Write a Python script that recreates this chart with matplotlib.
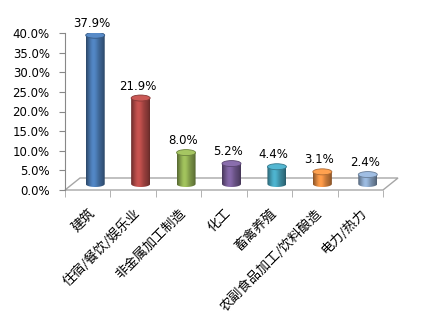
import matplotlib.pyplot as plt
import numpy as np
from matplotlib.path import Path
from matplotlib.patches import Ellipse, Polygon, PathPatch
from matplotlib.colors import to_rgb
from matplotlib.ticker import FuncFormatter

plt.rcParams['font.family'] = ['DejaVu Sans', 'Noto Sans CJK SC']

categories = ['建筑', '住宿/餐饮/娱乐业', '非金属加工制造', '化工', '畜禽养殖', '农副食品加工/饮料酿造', '电力/热力']
shares = [37.9, 21.9, 8.0, 5.2, 4.4, 3.1, 2.4]
colors = ['#4F81BD', '#C0504D', '#9BBB59', '#8064A2', '#4BACC6', '#F79646', '#95B3D7']
yticks = [0, 5, 10, 15, 20, 25, 30, 35, 40]

W, H = 426, 321
fig = plt.figure(figsize=(W / 100, H / 100), dpi=100)
# axes box in pixels: front floor edge 65..383, value 0 at y=190, 40% at y=33
ax = fig.add_axes([65 / W, (H - 190) / H, (383 - 65) / W, (190 - 33) / H])
ax.set_xlim(0, len(categories))
ax.set_ylim(0, 40)

px_x = (383 - 65) / len(categories)   # pixels per category
px_y = (190 - 33) / 40                # pixels per percent
depth_dx, depth_dy = 15 / px_x, 12 / px_y

# floor (3D base)
floor = Polygon([(0, 0), (len(categories), 0),
                 (len(categories) + depth_dx, depth_dy), (depth_dx, depth_dy)],
                closed=True, facecolor='white', edgecolor='#a6a6a6', lw=1.0,
                clip_on=False, zorder=1)
ax.add_patch(floor)

bw = 19 / px_x
eh = 6 / px_y
u = np.linspace(-1, 1, 64)
shade = 0.72 + 0.33 * np.exp(-((u + 0.2) / 0.5) ** 2) - 0.2 * np.abs(u) ** 4

for i, (v, c) in enumerate(zip(shares, colors)):
    cx = i + 0.5 + depth_dx / 2
    b = depth_dy / 2
    t = b + v
    base = np.array(to_rgb(c))
    row = np.clip(base[None, :] * shade[:, None], 0, 1)
    img = np.repeat(row[None, :, :], 2, axis=0)
    theta = np.linspace(np.pi, 2 * np.pi, 30)
    verts = [(cx - bw / 2, t)]
    verts += [(cx + bw / 2 * np.cos(a), b + eh / 2 * np.sin(a)) for a in theta]
    verts += [(cx + bw / 2, t), (cx - bw / 2, t)]
    body = Path(verts, closed=True)
    im = ax.imshow(img, extent=[cx - bw / 2, cx + bw / 2, b - eh / 2, t],
                   aspect='auto', zorder=3, interpolation='bilinear', clip_on=True)
    clip = PathPatch(body, transform=ax.transData, facecolor='none', edgecolor='none')
    ax.add_patch(clip)
    im.set_clip_path(clip)
    top_col = np.clip(base * 1.02 + 0.03, 0, 1)
    ax.add_patch(Ellipse((cx, t), bw, eh, facecolor=top_col,
                         edgecolor=base * 0.7, lw=0.6, zorder=4))
    ax.text(cx - 0.07, t + 1.4, f'{v:.1f}%', ha='center', va='bottom',
            fontsize=8.5, color='black', zorder=5)

ax.set_xlim(0, len(categories))
ax.set_ylim(0, 40)

ax.set_yticks(yticks)
ax.yaxis.set_major_formatter(FuncFormatter(lambda y, _: f'{y:.1f}%'))
ax.tick_params(axis='y', length=4, color='#888888', labelsize=8.5, pad=7)

ax.set_xticks(np.arange(len(categories)) + 0.5)
ax.set_xticklabels(categories, rotation=45, ha='right', rotation_mode='anchor',
                   fontsize=9.5, family=['Noto Sans CJK SC', 'DejaVu Sans'])
ax.tick_params(axis='x', which='major', length=0, pad=12)
ax.set_xticks(np.arange(len(categories) + 1), minor=True)
ax.tick_params(axis='x', which='minor', length=5, color='#a6a6a6')

for s in ['top', 'right']:
    ax.spines[s].set_visible(False)
ax.spines['bottom'].set_visible(False)
ax.spines['left'].set_color('#888888')

fig.savefig('out.png', dpi=100)
